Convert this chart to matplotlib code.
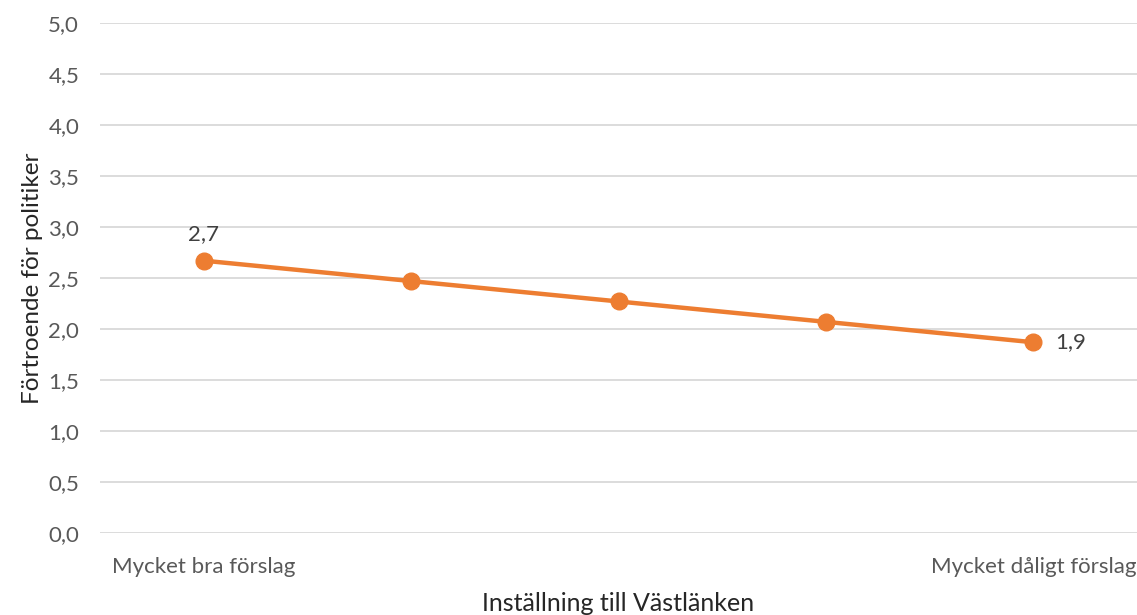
import matplotlib.pyplot as plt

# data
categories = ['Mycket bra förslag', '', '', '', 'Mycket dåligt förslag']
values = [2.67, 2.47, 2.27, 2.07, 1.87]
labels = ['2,7', '', '', '', '1,9']
yticks = [0, 0.5, 1, 1.5, 2, 2.5, 3, 3.5, 4, 4.5, 5]

plt.rcParams['font.family'] = ['Lato', 'DejaVu Sans']

fig = plt.figure(figsize=(11.37, 6.15), dpi=100)
ax = fig.add_axes([100 / 1137, 1 - 533 / 615, 1037 / 1137, 510 / 615])

x = list(range(len(values)))
ax.plot(x, values, color='#ED7D31', lw=3.2, marker='o', markersize=12,
        solid_capstyle='round', zorder=3)

# data labels: first above, last to the right
ax.annotate(labels[0], (x[0], values[0]), xytext=(0, 12), textcoords='offset points',
            ha='center', va='bottom', fontsize=16, color='#404040')
ax.annotate(labels[-1], (x[-1], values[-1]), xytext=(16, 0), textcoords='offset points',
            ha='left', va='center', fontsize=16, color='#404040')

ax.set_xlim(-0.5, len(values) - 0.5)
ax.set_ylim(0, 5)
ax.set_yticks(yticks)
ax.set_yticklabels([f'{v:.1f}'.replace('.', ',') for v in yticks])
ax.set_xticks(x)
ax.set_xticklabels(categories)

ax.grid(axis='y', color='#D9D9D9', lw=1.3)
ax.set_axisbelow(True)
for s in ax.spines.values():
    s.set_visible(False)
ax.tick_params(axis='both', length=0, labelsize=16, labelcolor='#595959')
ax.tick_params(axis='x', pad=17)
ax.tick_params(axis='y', pad=15)

ax.set_xlabel('Inställning till Västlänken', fontsize=18, color='#262626', labelpad=11)
ax.set_ylabel('Förtroende för politiker', fontsize=17.5, color='#262626', labelpad=4)

fig.savefig('out.png', dpi=100)
